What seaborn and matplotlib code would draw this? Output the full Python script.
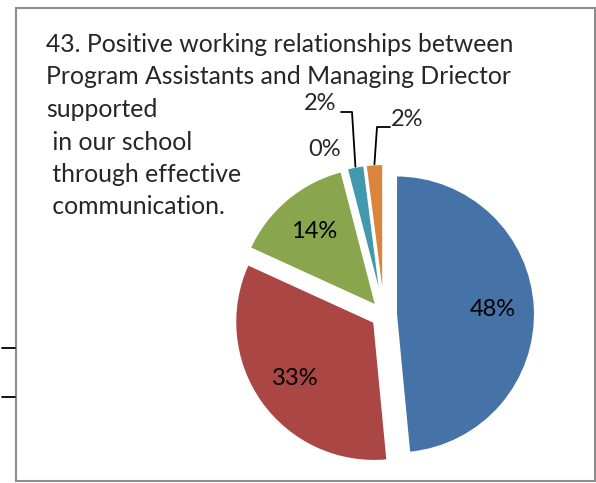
import numpy as np
import matplotlib
matplotlib.use('Agg')
import matplotlib.pyplot as plt
from matplotlib.patches import Rectangle
import seaborn as sns

# Data
categories = ['Strongly agree', 'Agree', 'Neutral', 'Strongly disagree', 'Disagree', 'No answer']
values = [48, 33, 14, 0, 2, 2]
colors = ['#4572A7', '#AA4643', '#89A54E', '#71588F', '#4198AF', '#DB843D']
title_lines = ['43. Positive working relationships between',
               'Program Assistants and Managing Driector',
               'supported',
               ' in our school',
               ' through effective',
               ' communication.']

sns.set_theme(style='white')
plt.rcParams['font.family'] = ['Lato', 'DejaVu Sans']

W, H = 596, 483
fig = plt.figure(figsize=(W / 100, H / 100), dpi=100)
ax = fig.add_axes([0, 0, 1, 1])

def Y(y):
    # screen pixel row -> data y
    return H - y

R = 139
wedges, texts, autotexts = ax.pie(
    values, colors=colors, startangle=90, counterclock=False,
    radius=R, center=(384, Y(315)), explode=[12] * len(values),
    autopct=lambda p: f'{p:.0f}%' if p > 5 else '', pctdistance=0.7,
    wedgeprops=dict(edgecolor='white', linewidth=1.5),
    textprops=dict(fontsize=17, color='black'), frame=True)

# labels for the thin slices
def wedge_top(w):
    mid = np.deg2rad((w.theta1 + w.theta2) / 2)
    cx, cy = w.center
    return cx + w.r * np.cos(mid), cy + w.r * np.sin(mid)

ax.text(325, Y(149), f'{values[3]}%', fontsize=17, ha='center', va='center')
ax.text(320, Y(103), f'{values[4]}%', fontsize=17, ha='center', va='center')
ax.text(407, Y(119), f'{values[5]}%', fontsize=17, ha='center', va='center')
tx, ty = wedge_top(wedges[4])
ax.plot([341, 352, tx], [Y(112), Y(112), ty], color='black', lw=1.3)
ox, oy = wedge_top(wedges[5])
ax.plot([390, 377, ox], [Y(127), Y(127), oy], color='black', lw=1.3)

# title block
for i, line in enumerate(title_lines):
    ax.text(46, Y(52 + 32.5 * i), line, fontsize=17.8, ha='left', va='baseline')

# chart border and stray ticks from the screenshot
ax.add_patch(Rectangle((16, Y(481)), 579, 473, fill=False, edgecolor='#8c8c8c', lw=1.5))
for yy in (348, 397):
    ax.plot([2, 15], [Y(yy), Y(yy)], color='black', lw=1.3)

ax.set_xlim(0, W)
ax.set_ylim(0, H)
ax.set_aspect('auto')
ax.axis('off')

fig.savefig('out.png', dpi=100)
